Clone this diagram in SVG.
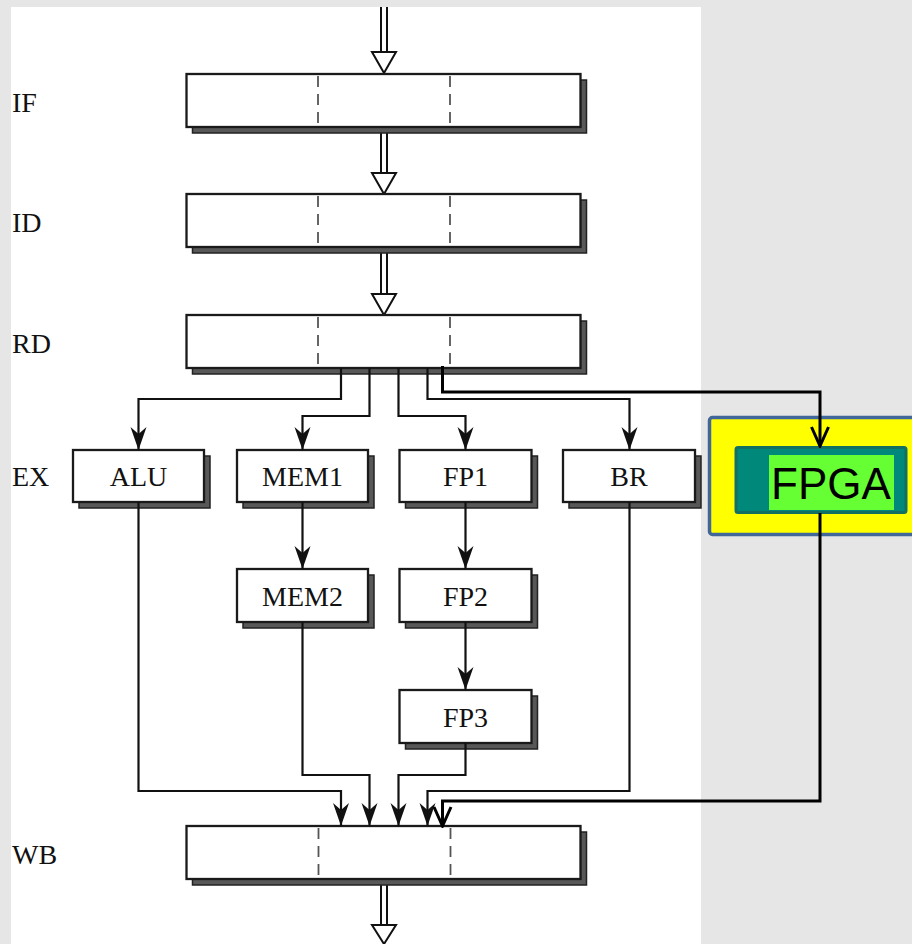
<svg xmlns="http://www.w3.org/2000/svg" width="912" height="944" viewBox="0 0 912 944">
<style>
.lbl{font-family:"Liberation Serif","Times New Roman",serif;font-size:28px;fill:#111}
.box{fill:#fff;stroke:#1a1a1a;stroke-width:2.3}
.sh{fill:#585858;stroke:#222;stroke-width:1.5}
.dash{stroke:#555;stroke-width:1.8;stroke-dasharray:11 7}
.con{fill:none;stroke:#111;stroke-width:2.2}
.thick{fill:none;stroke:#000;stroke-width:3}
.dbl{stroke:#111;stroke-width:2}
.hollow{fill:#fff;stroke:#111;stroke-width:2;stroke-linejoin:miter}
</style>
<defs>
<marker id="ah" markerUnits="userSpaceOnUse" viewBox="-26 -10 28 20" markerWidth="28" markerHeight="20" refX="0" refY="0" orient="auto">
<path d="M0,0 L-23,-8 L-16,0 L-23,8 Z" fill="#111"/>
</marker>
<marker id="av" markerUnits="userSpaceOnUse" viewBox="-22 -11 24 22" markerWidth="24" markerHeight="22" refX="0" refY="0" orient="auto">
<path d="M-19,-8.5 L0,0 L-19,8.5" fill="none" stroke="#000" stroke-width="3"/>
</marker>
</defs>
<rect x="0" y="0" width="912" height="944" fill="#e6e6e6"/>
<rect x="11" y="7" width="690" height="937" fill="#fff"/>

<!-- row labels -->
<g id="labels">
<text class="lbl" x="12" y="112">IF</text>
<text class="lbl" x="12" y="232">ID</text>
<text class="lbl" x="12" y="353">RD</text>
<text class="lbl" x="12" y="486">EX</text>
<text class="lbl" x="12" y="864">WB</text>
</g>

<!-- hollow double arrows -->
<g id="arrows-hollow">
<line class="dbl" x1="381" y1="7" x2="381" y2="52"/><line class="dbl" x1="387" y1="7" x2="387" y2="52"/>
<polygon class="hollow" points="372,52 396,52 384,73"/>
<line class="dbl" x1="381" y1="133" x2="381" y2="173"/><line class="dbl" x1="387" y1="133" x2="387" y2="173"/>
<polygon class="hollow" points="372,173 396,173 384,194"/>
<line class="dbl" x1="381" y1="253" x2="381" y2="294"/><line class="dbl" x1="387" y1="253" x2="387" y2="294"/>
<polygon class="hollow" points="372,294 396,294 384,315"/>
<line class="dbl" x1="381" y1="884" x2="381" y2="925"/><line class="dbl" x1="387" y1="884" x2="387" y2="925"/>
<polygon class="hollow" points="372,925 396,925 384,944"/>
</g>

<!-- stage registers -->
<g id="IF">
<rect class="sh" x="192.5" y="80" width="394" height="53"/>
<rect class="box" x="186.5" y="74" width="394" height="53"/>
<line class="dash" x1="318" y1="76" x2="318" y2="126"/><line class="dash" x1="450" y1="76" x2="450" y2="126"/>
</g>
<g id="ID">
<rect class="sh" x="192.5" y="200" width="394" height="53"/>
<rect class="box" x="186.5" y="194" width="394" height="53"/>
<line class="dash" x1="318" y1="196" x2="318" y2="246"/><line class="dash" x1="450" y1="196" x2="450" y2="246"/>
</g>
<g id="RD">
<rect class="sh" x="192.5" y="321" width="394" height="53"/>
<rect class="box" x="186.5" y="315" width="394" height="53"/>
<line class="dash" x1="318" y1="317" x2="318" y2="367"/><line class="dash" x1="450" y1="317" x2="450" y2="367"/>
</g>
<g id="WB">
<rect class="sh" x="192.5" y="832" width="394" height="53"/>
<rect class="box" x="186.5" y="826" width="394" height="53"/>
<line class="dash" x1="318.5" y1="828" x2="318.5" y2="878"/><line class="dash" x1="450.5" y1="828" x2="450.5" y2="878"/>
</g>

<!-- EX units -->
<g id="ALU">
<rect class="sh" x="79" y="456" width="131" height="52"/>
<rect class="box" x="73" y="450" width="131" height="52"/>
<text class="lbl" x="138.5" y="486" text-anchor="middle">ALU</text>
</g>
<g id="MEM1">
<rect class="sh" x="243" y="456" width="131" height="52"/>
<rect class="box" x="237" y="450" width="131" height="52"/>
<text class="lbl" x="302.5" y="486" text-anchor="middle">MEM1</text>
</g>
<g id="FP1">
<rect class="sh" x="405.5" y="456" width="132" height="52"/>
<rect class="box" x="399.5" y="450" width="132" height="52"/>
<text class="lbl" x="465.5" y="486" text-anchor="middle">FP1</text>
</g>
<g id="BR">
<rect class="sh" x="569" y="456" width="132" height="52"/>
<rect class="box" x="563" y="450" width="132" height="52"/>
<text class="lbl" x="629" y="486" text-anchor="middle">BR</text>
</g>
<g id="MEM2">
<rect class="sh" x="243" y="575" width="131" height="53"/>
<rect class="box" x="237" y="569" width="131" height="53"/>
<text class="lbl" x="302.5" y="606" text-anchor="middle">MEM2</text>
</g>
<g id="FP2">
<rect class="sh" x="405.5" y="575" width="132" height="53"/>
<rect class="box" x="399.5" y="569" width="132" height="53"/>
<text class="lbl" x="465.5" y="606" text-anchor="middle">FP2</text>
</g>
<g id="FP3">
<rect class="sh" x="405.5" y="696" width="132" height="53"/>
<rect class="box" x="399.5" y="690" width="132" height="53"/>
<text class="lbl" x="465.5" y="727" text-anchor="middle">FP3</text>
</g>

<g id="FPGA">
<rect x="709.5" y="417.5" width="206" height="117" rx="3" fill="#ffff00" stroke="#41679a" stroke-width="3.5"/>
<rect x="736" y="447.5" width="170" height="65" rx="2" fill="#00897a" stroke="#126f62" stroke-width="3"/>
<rect x="769" y="455" width="125" height="55" fill="#66ff33"/>
<text x="831" y="499" text-anchor="middle" font-family="'Liberation Sans',Arial,sans-serif" font-size="44" fill="#000">FPGA</text>
</g>

<!-- connectors -->
<g id="connectors">
<path class="con" d="M341,368 V399 H138.5 V450" marker-end="url(#ah)"/>
<path class="con" d="M369.5,368 V416 H302.5 V450" marker-end="url(#ah)"/>
<path class="con" d="M398.5,368 V416 H465.5 V450" marker-end="url(#ah)"/>
<path class="con" d="M427.5,368 V399 H629.5 V450" marker-end="url(#ah)"/>
<path class="thick" d="M442.5,366 V392 H820 V446" marker-end="url(#av)"/>
<path class="con" d="M302.5,502 V569" marker-end="url(#ah)"/>
<path class="con" d="M465.5,502 V569" marker-end="url(#ah)"/>
<path class="con" d="M465.5,622 V690" marker-end="url(#ah)"/>
<path class="con" d="M138.5,502 V791 H341 V826" marker-end="url(#ah)"/>
<path class="con" d="M302.5,622 V775 H369.5 V826" marker-end="url(#ah)"/>
<path class="con" d="M465.5,743 V775 H398.5 V826" marker-end="url(#ah)"/>
<path class="con" d="M629.5,502 V791 H427.5 V826" marker-end="url(#ah)"/>
<path class="thick" d="M820,513 V801 H442.5 V826" marker-end="url(#av)"/>
</g>
</svg>
